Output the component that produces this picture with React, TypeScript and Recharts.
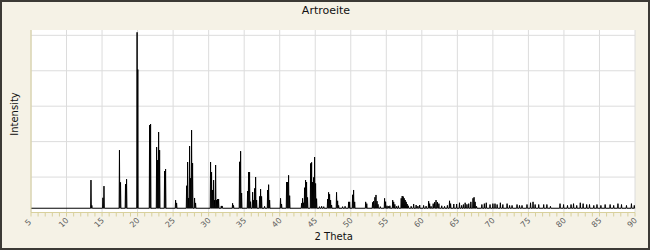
import { LineChart, Line, XAxis, YAxis, CartesianGrid, ReferenceLine } from "recharts";

// 2-theta positions of the reflections and their intensities
const peakPos = [
  13.44, 13.56, 15.12, 15.27, 17.45, 17.6, 18.3, 18.45, 19.93, 20.03,
  21.69, 21.83, 22.68, 22.82, 22.96, 23.1, 23.8, 23.94, 25.35, 25.49,
  26.9, 27.04, 27.18, 27.32, 27.46, 27.6, 27.74, 28.02, 28.16,
  30.27, 30.41, 30.55, 30.7, 30.84, 30.98, 31.12, 31.26, 31.4, 31.78, 31.9,
  33.37, 33.5, 34.35, 34.5, 34.64, 35.48, 35.62, 35.76, 35.9,
  36.19, 36.33, 36.47, 36.61, 36.75, 37.17, 37.31, 37.45, 37.87,
  38.3, 38.44, 38.58, 40.12, 40.26, 40.97, 41.11, 41.25, 41.4,
  43.08, 43.22, 43.36, 43.5, 43.64, 43.78, 43.92,
  44.35, 44.49, 44.63, 44.77, 44.91, 45.05, 45.19, 45.6, 45.9, 46.2,
  46.74, 46.88, 47.02, 47.16, 47.3, 48.0, 48.15, 48.29, 48.85, 49.2,
  49.7, 49.84, 50.26, 50.4, 50.55, 52.1, 52.25,
  53.07, 53.2, 53.4, 53.55, 53.7, 53.84, 54.16, 54.76, 54.9,
  55.1, 55.3, 55.5, 55.9, 56.04, 56.2, 56.45, 56.7,
  57.1, 57.24, 57.38, 57.52, 57.66, 57.8, 57.94, 58.1,
  58.5, 58.85, 59.2, 59.45, 59.7, 60.25, 60.6, 60.96, 61.1, 61.3,
  61.6, 61.8, 62.0, 62.2, 62.4, 62.8, 63.2, 63.6, 63.9, 64.05,
  64.5, 64.9, 65.3, 65.6, 65.85, 66.1, 66.35, 66.6, 66.9, 67.2, 67.35, 67.5,
  67.7, 68.45, 68.8, 69.07, 69.6, 70.0, 70.3, 70.6, 71.05, 71.4, 72.0, 72.35, 72.7,
  73.4, 73.75, 74.1, 74.8, 75.3, 75.65, 75.95, 76.45, 77.15, 77.6, 78.1,
  79.45, 79.95, 80.5, 81.0, 81.35, 81.8, 82.3, 82.7, 83.2, 83.6, 84.2, 84.65,
  85.2, 85.8, 86.5, 87.0, 87.6, 88.1, 88.8, 89.5, 89.9,
];

const peakInt = [
  18.3, 4, 8.3, 14.9, 35.2, 17, 16, 18.8, 101.7, 80.7,
  49.3, 49.9, 36.9, 29.6, 45.4, 35.2, 23.4, 24.5, 7, 5.4,
  15.1, 28.5, 8.2, 37.5, 19.4, 46.5, 27.9, 8.2, 5.4,
  28.5, 22.8, 12.7, 18.3, 7, 26.8, 7, 7.6, 7.6, 3.7, 3.7,
  5.2, 4, 28.6, 34.6, 11, 12.1, 22.8, 22.8, 6.1,
  11.5, 7, 13.6, 20, 7, 9.1, 13.2, 9.1, 3.5,
  12.7, 15.7, 7, 8, 4.8, 17.2, 17.2, 21, 9.5,
  5.2, 8, 5.5, 14, 18.3, 17.2, 8.5,
  27.7, 28.3, 17.2, 19.8, 31.3, 16.4, 7.8, 3.3, 3.5, 3.3,
  7.6, 11.4, 10.3, 7, 4.2, 11.4, 6.6, 4, 3.3, 3.5,
  6, 6, 10, 12.7, 6, 6, 5,
  5.7, 6.4, 8.6, 9.9, 6.4, 4.6, 3.3, 8, 6.1,
  3.8, 3.5, 3.8, 7, 6, 4.6, 3.5, 3.8,
  8, 9.3, 9, 8, 7, 6, 4.8, 3.8,
  3.5, 4.8, 4.2, 3.6, 4.2, 4, 3.6, 6.4, 5, 3.5,
  5, 5.8, 7, 5.8, 5, 3.8, 3.5, 4, 6.6, 5,
  4.8, 4.8, 5.5, 4, 4.5, 5.5, 4.6, 5, 6, 8, 8.6, 6,
  3.5, 4.5, 5, 5.5, 4.5, 5, 5, 4.5, 5.5, 4.5, 5, 4, 4,
  4.5, 4, 4, 4.5, 5.5, 6, 4.5, 4.5, 4.5, 4.5, 3.5,
  5, 4.5, 4, 4.5, 5, 4, 5.5, 5, 4.5, 4.5, 4, 4.5,
  4, 4.5, 4.5, 4, 5, 4.5, 4, 5, 4,
];

const background = 2.4;
const peakHalfWidth = 0.05;

const majorTicks = [5, 10, 15, 20, 25, 30, 35, 40, 45, 50, 55, 60, 65, 70, 75, 80, 85, 90];
const minorTicks = Array.from({ length: 86 }, (_, k) => 5 + k);
const yTicks = [0, 10, 20, 30, 40, 50, 60, 70, 80, 90, 100];
const yGrid = [20, 40, 60, 80, 100];

const rows: { t: number; i: number }[] = [{ t: 5, i: background }];
peakPos.forEach((p, k) => {
  rows.push({ t: p - peakHalfWidth, i: background });
  rows.push({ t: p, i: peakInt[k] });
  rows.push({ t: p + peakHalfWidth, i: background });
});
rows.push({ t: 90, i: background });

const axisColor = "#d8d09c";
const gridColor = "#dcdcdc";
const font = "'DejaVu Sans', Verdana, sans-serif";

function XTick({ x, y, payload }: any) {
  if (payload.value % 5 !== 0) return null;
  const px = x - 1;
  const py = y + 6;
  return (
    <text
      x={px}
      y={py}
      transform={`rotate(-45 ${px} ${py})`}
      textAnchor="middle"
      fontSize={8}
      fontFamily={font}
      fill="#606060"
    >
      {payload.value}
    </text>
  );
}

export default function App() {
  return (
    <div
      style={{
        position: "relative",
        width: 650,
        height: 250,
        background: "#f5f2e6",
        boxShadow: "inset 0 0 0 2px #3c3a35",
        fontFamily: font,
        color: "#111",
      }}
    >
      <style>{`body{margin:0}`}</style>
      <div style={{ position: "absolute", left: 226, top: 4.7, width: 200, textAlign: "center", fontSize: 11, lineHeight: "11px" }}>
        Artroeite
      </div>
      <div style={{ position: "absolute", left: 233.7, top: 231.5, width: 200, textAlign: "center", fontSize: 10, lineHeight: "10px" }}>
        2 Theta
      </div>
      <div
        style={{
          position: "absolute",
          left: -34.7,
          top: 108.7,
          width: 100,
          height: 10,
          textAlign: "center",
          fontSize: 10,
          lineHeight: "10px",
          transform: "rotate(-90deg)",
        }}
      >
        Intensity
      </div>
      <LineChart
        width={650}
        height={250}
        data={rows}
        margin={{ top: 30, right: 15, bottom: 0, left: 0 }}
        style={{ position: "absolute", left: 0, top: 0 }}
      >
        <CartesianGrid stroke={gridColor} fill="#ffffff" fillOpacity={1} horizontal={false} verticalValues={majorTicks} />
        {yGrid.map((v) => (
          <ReferenceLine key={v} y={v} stroke={gridColor} ifOverflow="visible" />
        ))}
        <XAxis
          type="number"
          dataKey="t"
          domain={[5, 90]}
          ticks={minorTicks}
          interval={0}
          tick={<XTick />}
          tickSize={4}
          stroke={axisColor}
          height={37.5}
        />
        <YAxis
          type="number"
          domain={[0, 103]}
          ticks={yTicks}
          interval={0}
          tick={false}
          tickSize={-4}
          stroke={axisColor}
          width={31}
        />
        <Line type="linear" dataKey="i" stroke="#000" strokeWidth={1} dot={false} isAnimationActive={false} />
      </LineChart>
    </div>
  );
}
